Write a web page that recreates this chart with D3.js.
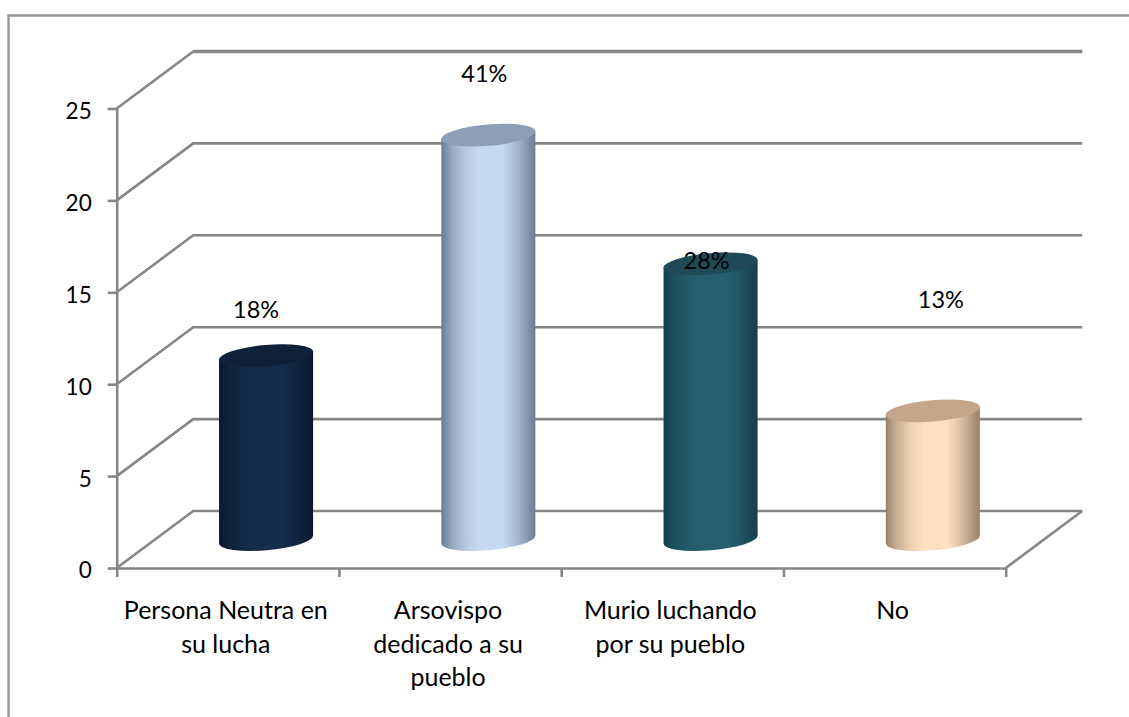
<!DOCTYPE html>
<html>
<head>
<meta charset="utf-8">
<script src="https://cdn.jsdelivr.net/npm/d3@7/dist/d3.min.js"></script>
<style>
  body { margin: 0; background: #fff; }
  svg { display: block; }
  text { font-family: Lato, "Open Sans", sans-serif; font-size: 25px; fill: #000; }
</style>
</head>
<body>
<svg width="1129" height="717"></svg>
<script>
// chart data
const categories = ['Persona Neutra en su lucha', 'Arsovispo dedicado a su pueblo', 'Murio luchando por su pueblo', 'No'];
const values = [10, 22, 15, 7];
const percents = ['18%', '41%', '28%', '13%'];
const yTicks = [0, 5, 10, 15, 20, 25];

// line breaks of the category labels, the labels were hand placed in the original
const categoryLines = [
  ['Persona Neutra en', 'su lucha'],
  ['Arsovispo', 'dedicado a su', 'pueblo'],
  ['Murio luchando', 'por su pueblo'],
  ['No']
];
const labelNudge = [[-10, -38], [-4, -53], [-4, 5], [8, -103]];
const barColors = [
  { edge: '#0a192c', mid: '#152d4b', top: '#0e2139' },
  { edge: '#6b7d92', mid: '#c5d9f1', top: '#8d9fb6' },
  { edge: '#14404b', mid: '#26606f', top: '#1e4b57' },
  { edge: '#97806a', mid: '#fde0c0', top: '#c4a68a' }
];

const axisGray = '#868686';
const depthX = 76.5, depthY = 57;

const svg = d3.select('svg');
const defs = svg.append('defs');

// outer frame, only top and left show up in the picture
svg.append('path')
  .attr('d', 'M8.5,717V15.5H1129')
  .attr('fill', 'none')
  .attr('stroke', '#969696')
  .attr('stroke-width', 2.4);

// scales
const xBand = d3.scaleBand().domain(categories).range([116.7, 1005.7]).paddingInner(0.577).paddingOuter(0.2885);
const xTick = d3.scaleLinear().domain([0, categories.length]).range([116.7, 1005.7]);
const yScale = d3.scaleLinear().domain([0, 25]).range([568, 108.5]);

// back wall gridlines and the diagonals coming forward to the axis
const grid = svg.append('g').attr('fill', 'none').attr('stroke', axisGray).attr('stroke-width', 2.6);
grid.selectAll('path.wall')
  .data(yTicks)
  .enter()
  .append('path')
  .classed('wall', true)
  .attr('d', d => `M${xTick(0)},${yScale(d)}L${xTick(0) + depthX},${yScale(d) - depthY}H${xTick(categories.length) + depthX}`);
// top gridline reads a bit heavier than the rest
grid.append('path')
  .attr('stroke-width', 3.4)
  .attr('d', `M${xTick(0) + depthX},${yScale(25) - depthY}H${xTick(categories.length) + depthX}`);
grid.append('path')
  .attr('d', `M${xTick(categories.length)},${yScale(0)}L${xTick(categories.length) + depthX},${yScale(0) - depthY}`);

// axes
const yAxis = svg.append('g')
  .attr('transform', `translate(${xTick(0)},0)`)
  .call(d3.axisLeft(yScale).tickValues(yTicks).tickSize(9).tickPadding(16));
const xAxis = svg.append('g')
  .attr('transform', `translate(0,${yScale(0)})`)
  .call(d3.axisBottom(xTick).ticks(categories.length).tickSize(9).tickFormat(''));
[yAxis, xAxis].forEach(axis => {
  axis.selectAll('.domain').attr('stroke', axisGray).attr('stroke-width', 2.6);
  axis.selectAll('.tick line').attr('stroke', axisGray).attr('stroke-width', 2.6);
});
yAxis.selectAll('text')
  .style('font-size', '22.5px')
  .style('font-family', 'Lato')
  .attr('fill', '#000')
  .attr('dy', '0.44em');
xAxis.selectAll('.domain').attr('d', `M${xTick(0)},0.5H${xTick(categories.length)}`);
yAxis.selectAll('.domain').attr('d', `M0.5,${yScale(25)}V${yScale(0)}`);

// category labels
svg.append('g').selectAll('text')
  .data(categories)
  .enter()
  .append('text')
  .attr('text-anchor', 'middle')
  .attr('y', 619)
  .each(function (d, i) {
    d3.select(this).selectAll('tspan')
      .data(categoryLines[i])
      .enter()
      .append('tspan')
      .attr('x', xBand(d) + xBand.bandwidth() / 2 - 2)
      .attr('dy', (l, j) => j === 0 ? 0 : 33.5)
      .text(l => l);
  });

// cylinders
const tilt = -5 * Math.PI / 180;
const rx = xBand.bandwidth() / 2 + 0.2, ry = 10.7;
const halfW = Math.sqrt(rx * rx * Math.cos(tilt) ** 2 + ry * ry * Math.sin(tilt) ** 2);
const tangentY = (rx * rx - ry * ry) * Math.sin(tilt) * Math.cos(tilt) / halfW;

barColors.forEach((c, i) => {
  const mix = d3.interpolateRgb(c.edge, c.mid);
  const grad = defs.append('linearGradient').attr('id', 'bar' + i);
  [[0, c.edge], [0.12, mix(0.5)], [0.27, mix(0.85)], [0.4, c.mid], [0.65, c.mid], [0.8, mix(0.65)], [1, c.edge]].forEach(s => {
    grad.append('stop').attr('offset', s[0]).attr('stop-color', s[1]);
  });
});

const bars = svg.append('g').selectAll('g')
  .data(values)
  .enter()
  .append('g')
  .attr('transform', (d, i) => `translate(${xBand(categories[i]) + xBand.bandwidth() / 2 + depthX / 2},0)`);
const topY = d => yScale(d) - depthY / 2;
const baseY = yScale(0) - depthY / 2;
const ellipse = (sel, y) => sel
  .attr('rx', rx).attr('ry', ry)
  .attr('transform', d => `translate(0,${y(d)}) rotate(${tilt * 180 / Math.PI})`);

bars.append('ellipse').call(ellipse, () => baseY).attr('fill', (d, i) => `url(#bar${i})`);
bars.append('path')
  .attr('d', d => `M${-halfW},${topY(d) - tangentY}L${halfW},${topY(d) + tangentY}V${baseY + tangentY}L${-halfW},${baseY - tangentY}Z`)
  .attr('fill', (d, i) => `url(#bar${i})`);
bars.append('ellipse').call(ellipse, topY).attr('fill', (d, i) => barColors[i].top);

// percent labels
svg.append('g').selectAll('text')
  .data(values)
  .enter()
  .append('text')
  .attr('text-anchor', 'middle')
  .style('font-size', '23.5px')
  .attr('x', (d, i) => xBand(categories[i]) + xBand.bandwidth() / 2 + depthX / 2 + labelNudge[i][0])
  .attr('y', (d, i) => topY(d) + labelNudge[i][1])
  .text((d, i) => percents[i]);
</script>
</body>
</html>
